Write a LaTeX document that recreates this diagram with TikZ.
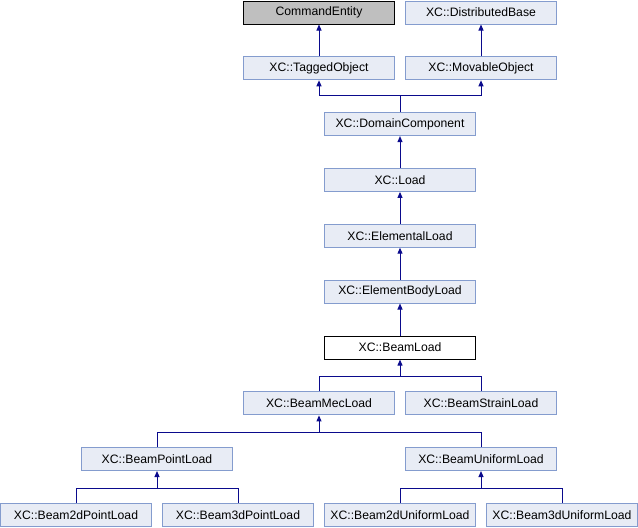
\documentclass[tikz,border=0pt]{standalone}
\usepackage{fontspec}
\setmainfont{Liberation Sans}
\usetikzlibrary{arrows.meta}
\definecolor{boxfill}{RGB}{232,236,245}
\definecolor{boxline}{RGB}{132,156,206}
\definecolor{edgecol}{RGB}{10,10,140}
\begin{document}
\begin{tikzpicture}[x=1pt,y=-1pt,
 cls/.style={draw=boxline,fill=boxfill,line width=1pt,minimum width=151pt,minimum height=23pt,inner sep=0pt,font=\fontsize{12.2}{14}\selectfont},
 ext/.style={cls,draw=black,fill=gray!50},
 cur/.style={cls,draw=black,fill=white},
 link/.style={draw=edgecol,line width=1pt},
 inh/.style={link,-{Triangle[width=5pt,length=6pt]}}]
\useasboundingbox (0,0) rectangle (638,528);
\node[ext] (cmd) at (319,12.5) {CommandEntity};
\node[cls] (dist) at (481,12.5) {XC::DistributedBase};
\node[cls] (tag) at (319,68.3) {XC::TaggedObject};
\node[cls] (mov) at (481,68.3) {XC::MovableObject};
\node[cls] (dom) at (400,124.1) {XC::DomainComponent};
\node[cls] (load) at (400,179.9) {XC::Load};
\node[cls] (elem) at (400,235.7) {XC::ElementalLoad};
\node[cls] (body) at (400,291.5) {XC::ElementBodyLoad};
\node[cur] (beam) at (400,347.6) {XC::BeamLoad};
\node[cls] (mec) at (319,403.4) {XC::BeamMecLoad};
\node[cls] (strain) at (481,403.4) {XC::BeamStrainLoad};
\node[cls] (point) at (157,459.0) {XC::BeamPointLoad};
\node[cls] (unif) at (481,459.0) {XC::BeamUniformLoad};
\node[cls] (p2) at (76,514.8) {XC::Beam2dPointLoad};
\node[cls] (p3) at (238,514.8) {XC::Beam3dPointLoad};
\node[cls] (u2) at (400,514.8) {XC::Beam2dUniformLoad};
\node[cls] (u3) at (562,514.8) {XC::Beam3dUniformLoad};
% edges
\draw[inh] (tag.north) -- (cmd.south);
\draw[inh] (mov.north) -- (dist.south);
\coordinate (j1) at (400,95.7);
\draw[link] (dom.north) -- (j1);
\draw[inh] (j1) -| (tag.south);
\draw[inh] (j1) -| (mov.south);
\draw[inh] (load.north) -- (dom.south);
\draw[inh] (elem.north) -- (load.south);
\draw[inh] (body.north) -- (elem.south);
\draw[inh] (beam.north) -- (body.south);
\coordinate (j2) at (400,376.7);
\draw[inh] (j2) -- (beam.south);
\draw[link] (mec.north) |- (j2);
\draw[link] (strain.north) |- (j2);
\coordinate (j3) at (319,432);
\draw[inh] (j3) -- (mec.south);
\draw[link] (point.north) |- (j3);
\draw[link] (unif.north) |- (j3);
\coordinate (j4) at (157,488);
\draw[inh] (j4) -- (point.south);
\draw[link] (p2.north) |- (j4);
\draw[link] (p3.north) |- (j4);
\coordinate (j5) at (481,488);
\draw[inh] (j5) -- (unif.south);
\draw[link] (u2.north) |- (j5);
\draw[link] (u3.north) |- (j5);
\end{tikzpicture}
\end{document}
